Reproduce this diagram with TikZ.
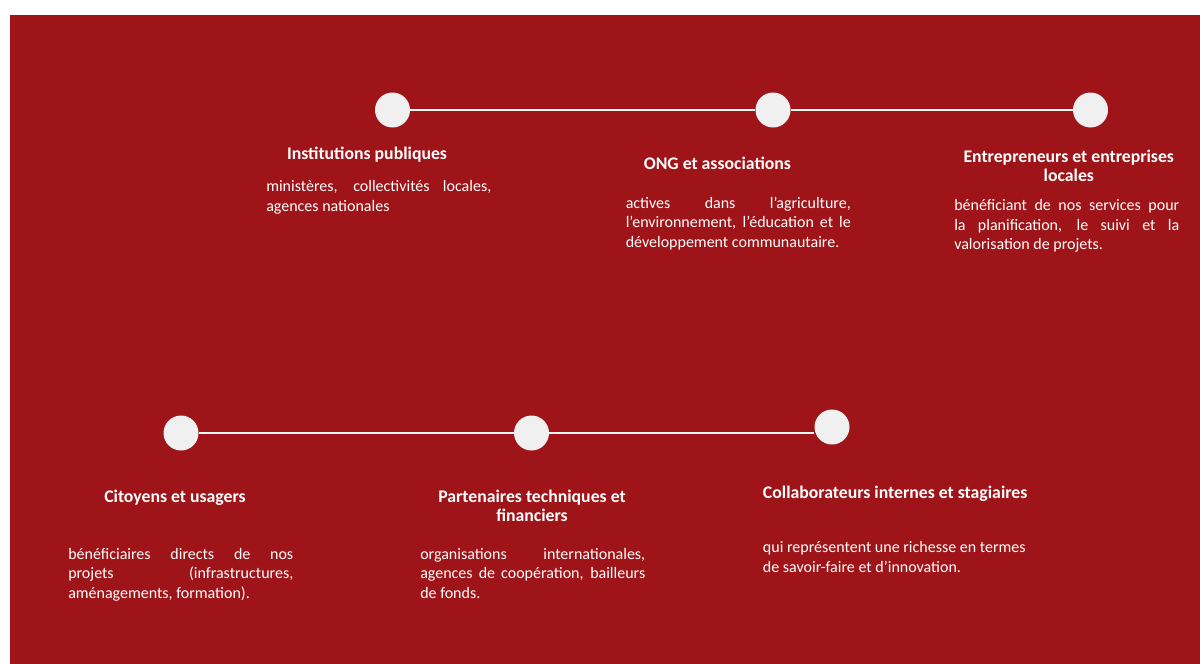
\documentclass[tikz,border=0pt]{standalone}
\usepackage{fontspec}
\setmainfont{Carlito}
\definecolor{bgred}{HTML}{9F1418}
\definecolor{dotfill}{HTML}{F0F0F0}
\definecolor{linkwhite}{HTML}{F8F8F8}
\newcommand\jline[1]{\makebox[168.75pt][s]{#1}}
\tikzset{
  dot/.style={circle, fill=dotfill, draw=none, minimum size=26.25pt, inner sep=0pt},
  link/.style={draw=linkwhite, line width=2.2pt},
  ttl/.style={text=white, font=\fontsize{13.3}{14.25}\selectfont\bfseries, align=center, inner sep=0pt, anchor=base},
  body/.style={text=white, font=\fontsize{12}{14.6}\selectfont, align=left, inner sep=0pt, anchor=base west},
}
\begin{document}
\begin{tikzpicture}[x=0.75pt, y=-0.75pt]
\useasboundingbox (0,0) rectangle (1200,664);
\fill[white] (0,0) rectangle (1200,664);
\fill[bgred] (10,15) rectangle (1200,664);
% dots
\node[dot] (d1) at (392.5,110) {};
\node[dot] (d2) at (773,110) {};
\node[dot] (d3) at (1090.5,110) {};
\node[dot] (d4) at (181,433) {};
\node[dot] (d5) at (531.5,433) {};
\node[dot] (d6) at (832,427) {};
% connectors
\draw[link] (d1.east) -- (d2.west);
\draw[link] (d2.east) -- (d3.west);
\draw[link] (d4.east) -- (d5.west);
\draw[link] (d5.east) -- (d5.east -| d6.west);
% titles (anchor = baseline of last line)
\node[ttl] (t1) at (367,159) {Institutions publiques};
\node[ttl] (t2) at (717.4,169.5) {ONG et associations};
\node[ttl] (t3) at (1068.8,181) {Entrepreneurs et entreprises\\locales};
\node[ttl] (t4) at (175,502) {Citoyens et usagers};
\node[ttl] (t5) at (532,521.5) {Partenaires techniques et\\financiers};
\node[ttl, anchor=base west] (t6) at (762.7,498) {Collaborateurs internes et stagiaires};
% bodies (anchor = baseline of last line)
\node[body] (b1) at (266,211) {\jline{ministères, collectivités locales,}\\agences nationales};
\node[body] (b2) at (625.5,247.3) {\jline{actives dans l’agriculture,}\\\jline{l’environnement, l’éducation et le}\\développement communautaire.};
\node[body] (b3) at (954,249.7) {\jline{bénéficiant de nos services pour}\\\jline{la planification, le suivi et la}\\valorisation de projets.};
\node[body] (b4) at (68,598) {\jline{bénéficiaires directs de nos}\\\jline{projets (infrastructures,}\\aménagements, formation).};
\node[body] (b5) at (420,598) {\jline{organisations internationales,}\\\jline{agences de coopération, bailleurs}\\de fonds.};
\node[body] (b6) at (762.7,572.3) {qui représentent une richesse en termes\\de savoir-faire et d’innovation.};
\end{tikzpicture}
\end{document}
